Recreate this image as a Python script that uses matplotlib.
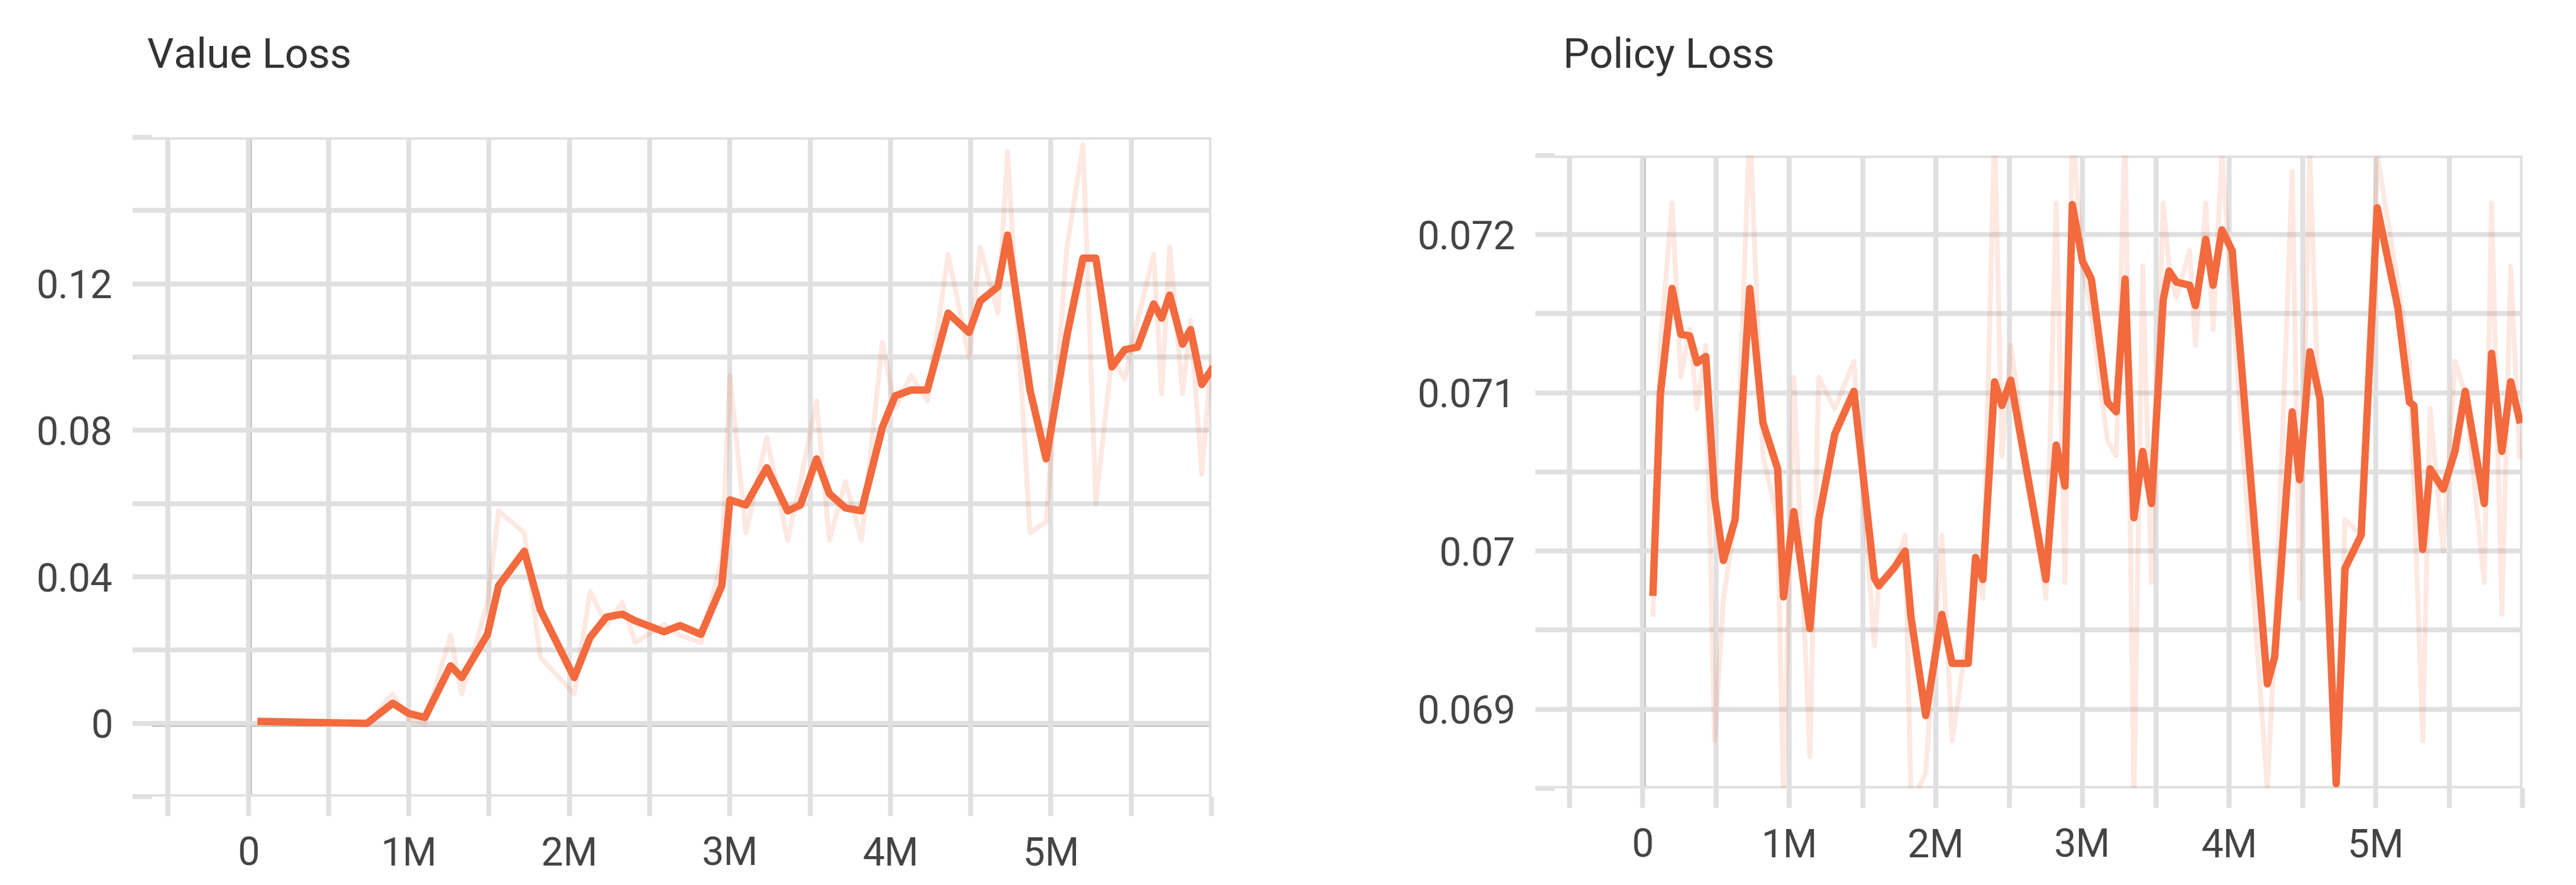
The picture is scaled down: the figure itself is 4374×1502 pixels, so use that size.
import matplotlib
matplotlib.use("Agg")
import matplotlib.pyplot as plt
from matplotlib.ticker import FuncFormatter, MultipleLocator

plt.rcParams["font.family"] = ["Roboto", "DejaVu Sans"]

# ---- data (steps in millions) ----
value_x = [0.08, 0.74, 0.9, 1.0, 1.1, 1.26, 1.33, 1.49, 1.56, 1.72, 1.82, 2.03, 2.13, 2.23, 2.33,
           2.41, 2.59, 2.69, 2.82, 2.95, 3.0, 3.1, 3.23, 3.36, 3.44, 3.54, 3.62, 3.72, 3.82, 3.95,
           4.03, 4.13, 4.23, 4.36, 4.49, 4.56, 4.67, 4.73, 4.87, 4.97, 5.1, 5.2, 5.28, 5.38, 5.46,
           5.54, 5.64, 5.69, 5.74, 5.82, 5.87, 5.94, 6.0]
value_smooth = [0.0005, 0.0, 0.0055, 0.0027, 0.0016, 0.0157, 0.0125, 0.0243, 0.0376, 0.047, 0.031,
                0.0125, 0.0235, 0.029, 0.0298, 0.028, 0.025, 0.0267, 0.0243, 0.0376, 0.061, 0.0596,
                0.0698, 0.058, 0.0596, 0.0722, 0.0627, 0.0588, 0.058, 0.0808, 0.0894, 0.091, 0.091,
                0.112, 0.1067, 0.1153, 0.1192, 0.1333, 0.091, 0.0722, 0.1059, 0.127, 0.127, 0.0973,
                0.102, 0.1027, 0.1145, 0.1106, 0.1169, 0.1035, 0.1075, 0.0925, 0.0965]
value_raw = [0.001, 0.0, 0.008, 0.001, 0.0, 0.024, 0.008, 0.033, 0.058, 0.052, 0.018,
             0.008, 0.036, 0.027, 0.033, 0.022, 0.027, 0.024, 0.022, 0.045, 0.095, 0.052,
             0.078, 0.05, 0.066, 0.088, 0.05, 0.066, 0.05, 0.104, 0.086, 0.095, 0.088,
             0.128, 0.1, 0.13, 0.112, 0.156, 0.052, 0.055, 0.13, 0.158, 0.06, 0.1,
             0.094, 0.11, 0.128, 0.09, 0.13, 0.09, 0.11, 0.068, 0.1]

policy_x = [0.07, 0.12, 0.2, 0.26, 0.32, 0.37, 0.43, 0.49, 0.55, 0.63, 0.73, 0.82, 0.92, 0.96, 1.03,
            1.14, 1.2, 1.31, 1.44, 1.58, 1.61, 1.72, 1.79, 1.83, 1.93, 2.04, 2.11, 2.22, 2.27, 2.32,
            2.4, 2.45, 2.51, 2.75, 2.82, 2.88, 2.93, 3.0, 3.06, 3.17, 3.23, 3.29, 3.35, 3.41, 3.47,
            3.55, 3.59, 3.64, 3.73, 3.77, 3.84, 3.89, 3.95, 4.02, 4.26, 4.31, 4.43, 4.48, 4.55,
            4.62, 4.73, 4.79, 4.9, 5.01, 5.15, 5.23, 5.26, 5.32, 5.37, 5.46, 5.54, 5.61, 5.74,
            5.79, 5.86, 5.92, 5.98]
policy_smooth = [0.06974, 0.07099, 0.07166, 0.07137, 0.07136, 0.07119, 0.07123, 0.07034, 0.06994,
                 0.0702, 0.07166, 0.07081, 0.07052, 0.06971, 0.07025, 0.06951, 0.0702, 0.07074,
                 0.07101, 0.06983, 0.06978, 0.0699, 0.07, 0.06958, 0.06896, 0.0696, 0.06929,
                 0.06929, 0.06996, 0.06982, 0.07107, 0.07092, 0.07108, 0.06982, 0.07067, 0.07041,
                 0.07219, 0.07183, 0.07172, 0.07094, 0.07088, 0.07172, 0.07021, 0.07063, 0.0703,
                 0.07159, 0.07177, 0.0717, 0.07168, 0.07155, 0.07197, 0.07168, 0.07203, 0.0719,
                 0.06916, 0.06933, 0.07088, 0.07045, 0.07126, 0.07096, 0.06853, 0.06989, 0.0701,
                 0.07217, 0.07154, 0.07094, 0.07092, 0.07001, 0.07052, 0.07039, 0.07063, 0.07101,
                 0.0703, 0.07125, 0.07063, 0.07107, 0.07083]
policy_raw = [0.0696, 0.0713, 0.0722, 0.0711, 0.0714, 0.0709, 0.0713, 0.0688, 0.0697,
              0.0702, 0.0727, 0.0706, 0.0702, 0.0684, 0.0711, 0.0687, 0.0711, 0.0709,
              0.0712, 0.0694, 0.0698, 0.0699, 0.0701, 0.0684, 0.0686, 0.0701, 0.0688,
              0.0695, 0.0699, 0.0697, 0.0727, 0.0706, 0.0713, 0.0697, 0.0722, 0.0698,
              0.0727, 0.0718, 0.0715, 0.0707, 0.0706, 0.0727, 0.0684, 0.0718, 0.0698,
              0.0722, 0.0718, 0.0716, 0.0719, 0.0713, 0.0722, 0.0714, 0.0725, 0.0716,
              0.0685, 0.0694, 0.0724, 0.0697, 0.0725, 0.0706, 0.0684, 0.0702, 0.0701,
              0.0725, 0.0717, 0.0712, 0.0704, 0.0688, 0.0709, 0.0700, 0.0712, 0.0710,
              0.0698, 0.0722, 0.0696, 0.0718, 0.0706]

LINE = "#f26a3d"
GRID = "#e0e0e0"
ZERO = "#8c8c8c"
TXT = "#444444"


def mfmt(v, _):
    if abs(v - round(v)) > 1e-6 or v < 0 or v > 5:
        return ""
    return "0" if abs(v) < 1e-9 else f"{v:g}M"


def style(ax):
    ax.xaxis.set_major_locator(MultipleLocator(0.5))
    ax.xaxis.set_major_formatter(FuncFormatter(mfmt))
    ax.grid(True, color=GRID, lw=2.0)
    for s in ax.spines.values():
        s.set_visible(False)
    ax.tick_params(colors=GRID, labelcolor=TXT, labelsize=16, length=8, width=2, pad=8)
    ax.axvline(0, color=ZERO, lw=2.2, zorder=1)


fig = plt.figure(figsize=(14.58, 5.007), dpi=300)

# Value loss
ax1 = fig.add_axes([258 / 4374, 1 - 1352 / 1502, (2057 - 258) / 4374, (1352 - 233) / 1502])
ax1.plot(value_x, value_raw, color=LINE, alpha=0.15, lw=2)
ax1.plot(value_x, value_smooth, color=LINE, lw=3)
ax1.set_xlim(-0.6, 6.0)
ax1.set_ylim(-0.02, 0.16)
style(ax1)
ax1.yaxis.set_major_locator(MultipleLocator(0.02))
ax1.yaxis.set_major_formatter(FuncFormatter(
    lambda v, p: (f"{v:.2f}" if abs(v) > 1e-9 else "0") if round(v / 0.02) % 2 == 0 and -0.01 < v < 0.15 else ""))
ax1.axhline(0, color=ZERO, lw=2.2, zorder=1)
fig.text(250 / 4374, 1 - 95 / 1502, "Value Loss", fontsize=17, color="#333333", va="center")

# Policy loss
ax2 = fig.add_axes([2640 / 4374, 1 - 1338 / 1502, (4283 - 2640) / 4374, (1338 - 264) / 1502])
ax2.plot(policy_x, policy_raw, color=LINE, alpha=0.15, lw=2)
ax2.plot(policy_x, policy_smooth, color=LINE, lw=3)
ax2.set_xlim(-0.6, 6.0)
ax2.set_ylim(0.0685, 0.0725)
style(ax2)
ax2.yaxis.set_major_locator(MultipleLocator(0.0005))
ax2.yaxis.set_major_formatter(FuncFormatter(
    lambda v, p: f"{v:g}" if abs(v * 1000 - round(v * 1000)) < 1e-6 else ""))
fig.text(2654 / 4374, 1 - 95 / 1502, "Policy Loss", fontsize=17, color="#333333", va="center")

fig.savefig("out.png", dpi=300, facecolor="white")
